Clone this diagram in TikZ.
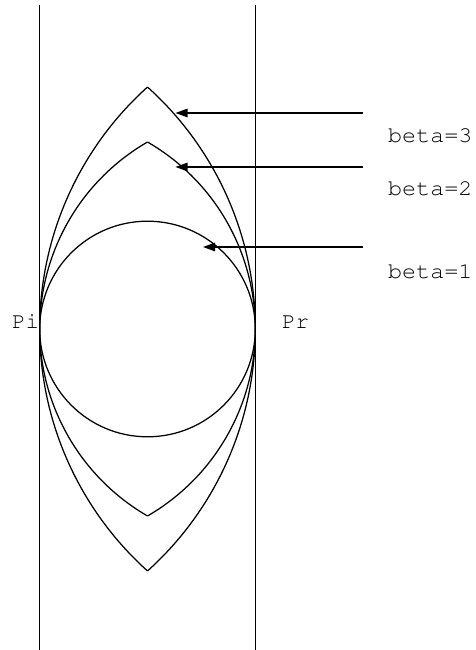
\documentclass[tikz,border=0pt]{standalone}
\usepackage[T1]{fontenc}
\usepackage{graphicx}
\usetikzlibrary{arrows.meta}
\newcommand{\courierfont}{\fontencoding{T1}\fontfamily{pcr}\selectfont}
\begin{document}
\begin{tikzpicture}[x=1pt,y=1pt,
  curve/.style={line width=1.25pt},
  pointer/.style={line width=1.25pt,-{Triangle[length=12pt,width=8.5pt]}},
  betalabel/.style={anchor=west,inner sep=0pt,font=\courierfont\fontsize{22.5}{24}\selectfont},
  plabel/.style={anchor=base west,inner sep=0pt,font=\courierfont\fontsize{22.5}{24}\selectfont}]
\useasboundingbox (0,0) rectangle (475,650);
% walls
\coordinate (lt) at (39.7,645);
\coordinate (lb) at (39.7,0);
\coordinate (rt) at (255.3,645);
\coordinate (rb) at (255.3,0);
\draw[curve] (lt) -- (lb);
\draw[curve] (rt) -- (rb);
% beta=1 circle
\coordinate (c) at (147.5,321);
\draw[curve] (c) circle[radius=107.8];
% beta=3 lens
\coordinate (l3) at (365.2,321);
\coordinate (r3) at (-70.2,321);
\draw[curve] (l3) ++(131.98:325.5) arc[start angle=131.98,end angle=228.02,radius=325.5];
\draw[curve] (r3) ++(48.02:325.5) arc[start angle=48.02,end angle=-48.02,radius=325.5];
% beta=2 lens
\coordinate (l2) at (255.8,321);
\coordinate (r2) at (39.2,321);
\draw[curve] (l2) ++(120.08:216.1) arc[start angle=120.08,end angle=239.92,radius=216.1];
\draw[curve] (r2) ++(59.92:216.1) arc[start angle=59.92,end angle=-59.92,radius=216.1];
% labels
\node[plabel] (pi) at (12,321) {Pi};
\node[plabel] (pr) at (282,321) {Pr};
\node[betalabel] (b3) at (388,515) {\scalebox{1.04}[1]{beta=3}};
\node[betalabel] (b2) at (388,462) {\scalebox{1.04}[1]{beta=2}};
\node[betalabel] (b1) at (388,379) {\scalebox{1.04}[1]{beta=1}};
% arrows
\coordinate (s3) at (362.5,537);
\coordinate (t3) at (175.5,537);
\coordinate (s2) at (362.5,483);
\coordinate (t2) at (175.5,483);
\coordinate (s1) at (362.5,403);
\coordinate (t1) at (203,403);
\draw[pointer] (s3) -- (t3);
\draw[pointer] (s2) -- (t2);
\draw[pointer] (s1) -- (t1);
\end{tikzpicture}
\end{document}
